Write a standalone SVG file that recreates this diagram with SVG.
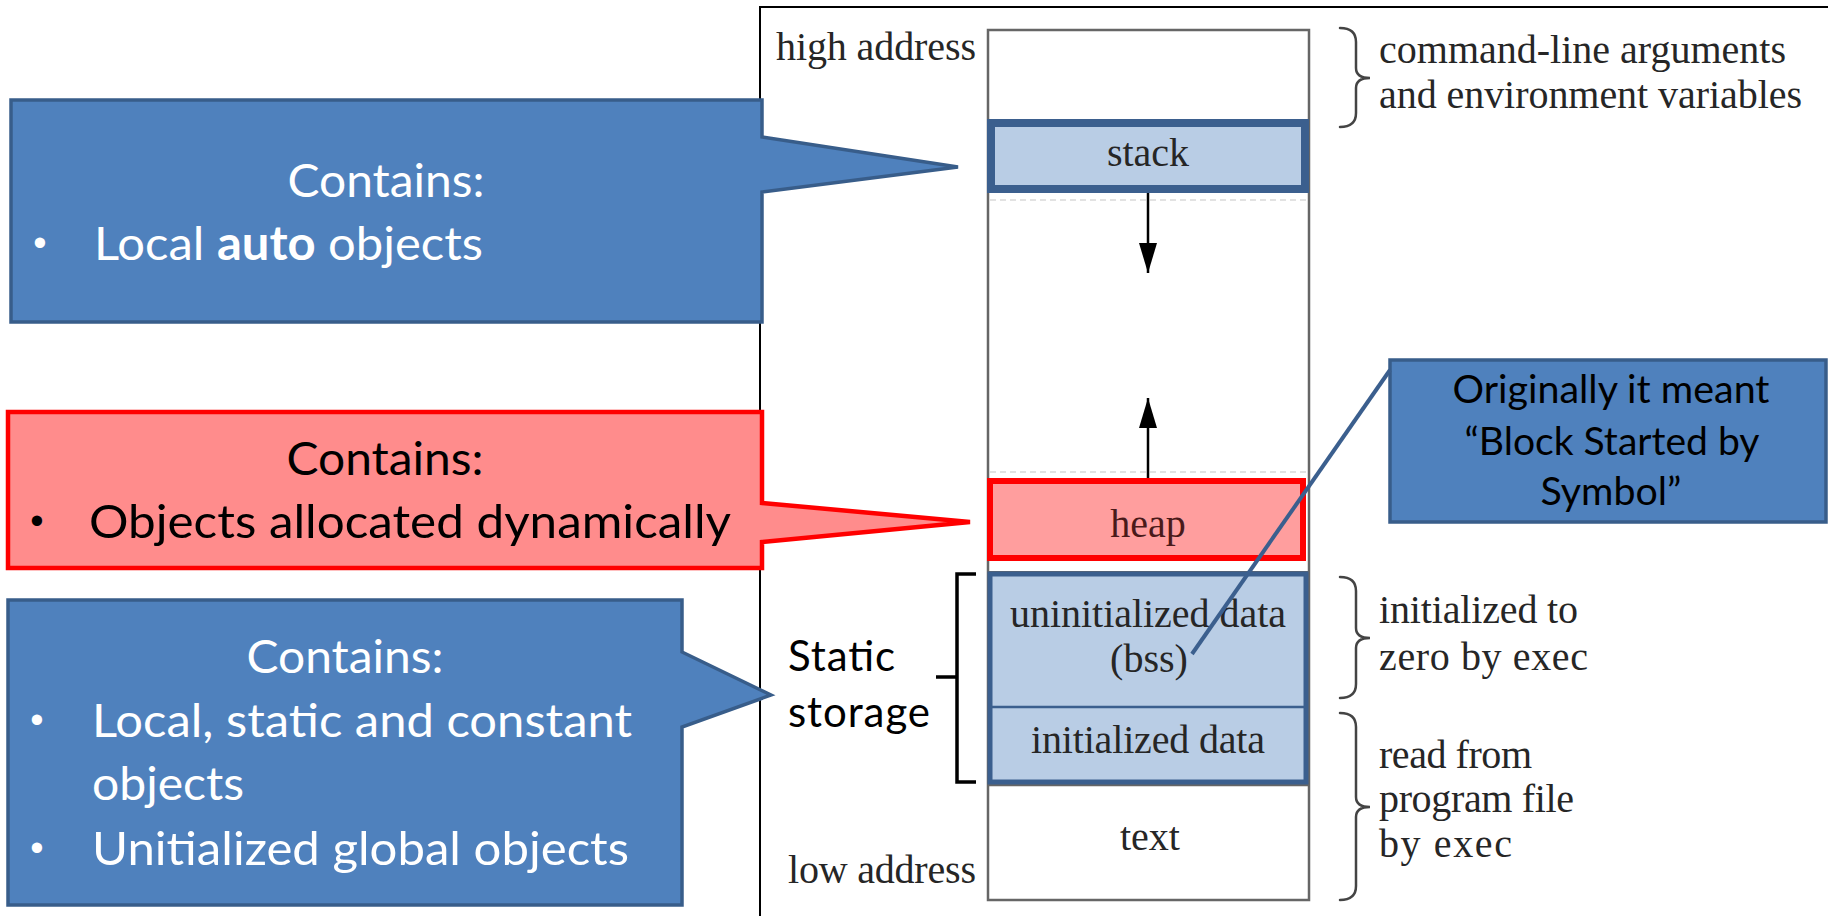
<svg xmlns="http://www.w3.org/2000/svg" width="1828" height="916" viewBox="0 0 1828 916">
<defs>
<style>
.serif{font-family:"Liberation Serif","Times New Roman",serif;font-size:40px;fill:#262626}
.sans{font-family:Lato,"Open Sans","Liberation Sans",sans-serif;font-size:47px}
.bul{font-family:"Liberation Sans",sans-serif;font-size:38px;text-anchor:middle}
.white{fill:#ffffff}
.black{fill:#000000}
.mid{text-anchor:middle}
.blueCall{fill:#4f81bd;stroke:#385d8a;stroke-width:3.5;stroke-linejoin:miter}
.redCall{fill:#ff8c8c;stroke:#ff0000;stroke-width:4.5;stroke-linejoin:miter}
.seg{fill:#b9cde5;stroke:#3b5f8e}
.brace{fill:none;stroke:#444;stroke-width:2.5;stroke-linecap:round}
</style>
<marker id="ah" viewBox="0 0 30 18" refX="30" refY="9" markerWidth="30" markerHeight="18" markerUnits="userSpaceOnUse" orient="auto">
<path d="M0,0 L30,9 L0,18 Z" fill="#000"/>
</marker>
</defs>
<rect width="1828" height="916" fill="#ffffff"/>

<g id="frame">
<path d="M760,916 V7 H1828" fill="none" stroke="#000" stroke-width="2"/>
</g>

<g id="memory-column">
<rect x="988" y="30" width="321" height="870" fill="#fff" stroke="#666" stroke-width="2.5"/>
<line x1="990" y1="200" x2="1307" y2="200" stroke="#e2e2e2" stroke-width="2" stroke-dasharray="6 4"/>
<line x1="990" y1="472" x2="1307" y2="472" stroke="#e2e2e2" stroke-width="2" stroke-dasharray="6 4"/>
<line x1="988" y1="572" x2="1309" y2="572" stroke="#666" stroke-width="2"/>
<line x1="988" y1="785" x2="1309" y2="785" stroke="#666" stroke-width="2.5"/>
<text class="serif" x="776" y="60" textLength="200">high address</text>
<text class="serif" x="788" y="883" textLength="188">low address</text>
</g>

<g id="stack">
<rect class="seg" x="991" y="123" width="314" height="66" stroke-width="8"/>
<text class="serif mid" x="1148" y="166">stack</text>
</g>

<g id="heap">
<rect x="990" y="481" width="313" height="77" fill="#ff9e9e" stroke="#ff0000" stroke-width="6"/>
<text class="serif mid" x="1148" y="537" style="fill:#4a1a1a">heap</text>
</g>

<g id="bss">
<rect class="seg" x="990" y="574" width="316" height="208" stroke-width="5"/>
<line x1="990" y1="707" x2="1306" y2="707" stroke="#3b5f8e" stroke-width="2.5"/>
<text class="serif mid" x="1148" y="627" textLength="276">uninitialized data</text>
<text class="serif mid" x="1149" y="672">(bss)</text>
</g>

<g id="initialized-data">
<text class="serif mid" x="1148" y="753" textLength="234">initialized data</text>
</g>

<g id="text-segment">
<text class="serif mid" x="1150" y="850">text</text>
</g>

<g id="braces">
<path class="brace" d="M1340,28 Q1356,28 1356,42 V68 Q1356,78 1370,78 Q1356,78 1356,88 V113 Q1356,127 1340,127"/>
<path class="brace" d="M1340,577 Q1356,577 1356,591 V628 Q1356,638 1370,638 Q1356,638 1356,648 V684 Q1356,698 1340,698"/>
<path class="brace" d="M1340,713 Q1356,713 1356,727 V797 Q1356,807 1370,807 Q1356,807 1356,817 V886 Q1356,900 1340,900"/>
<text class="serif" x="1379" y="63" textLength="407">command-line arguments</text>
<text class="serif" x="1379" y="108" textLength="423">and environment variables</text>
<text class="serif" x="1379" y="623" textLength="199">initialized to</text>
<text class="serif" x="1379" y="670" textLength="209">zero by exec</text>
<text class="serif" x="1379" y="768" textLength="153">read from</text>
<text class="serif" x="1379" y="812" textLength="195">program file</text>
<text class="serif" x="1379" y="857" textLength="133">by exec</text>
</g>

<g id="static-storage">
<path d="M976,574 H957 V782 H976 M936,677 H957" fill="none" stroke="#000" stroke-width="3.5"/>
<text class="sans black" x="788" y="671" style="font-size:42px" textLength="107">Static</text>
<text class="sans black" x="788" y="727" style="font-size:42px" textLength="142">storage</text>
</g>

<g id="callout-auto">
<path class="blueCall" d="M11,100 H762 V137 L958,167 L762,192 V322 H11 Z"/>
<text class="sans white mid" x="386" y="197" textLength="197" lengthAdjust="spacingAndGlyphs">Contains:</text>
<text class="bul white" x="40" y="256">•</text>
<text class="sans white" x="94" y="260" textLength="389" lengthAdjust="spacingAndGlyphs">Local <tspan font-weight="bold">auto</tspan> objects</text>
</g>

<g id="callout-heap">
<path class="redCall" d="M8,412 H762 V503 L970,522 L762,542 V568 H8 Z"/>
<text class="sans black mid" x="385" y="475" textLength="197" lengthAdjust="spacingAndGlyphs">Contains:</text>
<text class="bul black" x="37" y="534">•</text>
<text class="sans black" x="89" y="538" textLength="642" lengthAdjust="spacingAndGlyphs">Objects allocated dynamically</text>
</g>

<g id="callout-static">
<path class="blueCall" d="M8,600 H682 V652 L771,695 L682,727 V905 H8 Z"/>
<text class="sans white mid" x="345" y="673" textLength="197" lengthAdjust="spacingAndGlyphs">Contains:</text>
<text class="bul white" x="37" y="733">•</text>
<text class="sans white" x="92" y="737" textLength="540" lengthAdjust="spacingAndGlyphs">Local, static and constant</text>
<text class="sans white" x="92" y="800" textLength="152" lengthAdjust="spacingAndGlyphs">objects</text>
<text class="bul white" x="37" y="861">•</text>
<text class="sans white" x="92" y="865" textLength="537" lengthAdjust="spacingAndGlyphs">Unitialized global objects</text>
</g>

<g id="callout-bss">
<rect class="blueCall" x="1390" y="360" width="436" height="162"/>
<text class="sans black mid" x="1611" y="403" style="font-size:38px" textLength="317" lengthAdjust="spacingAndGlyphs">Originally it meant</text>
<text class="sans black mid" x="1612" y="455" style="font-size:38px" textLength="295" lengthAdjust="spacingAndGlyphs">“Block Started by</text>
<text class="sans black mid" x="1611" y="505" style="font-size:38px" textLength="141" lengthAdjust="spacingAndGlyphs">Symbol”</text>
</g>

<g id="connectors">
<line x1="1148" y1="193" x2="1148" y2="273" stroke="#000" stroke-width="2.5" marker-end="url(#ah)"/>
<line x1="1148" y1="478" x2="1148" y2="398" stroke="#000" stroke-width="2.5" marker-end="url(#ah)"/>
<line x1="1390" y1="370" x2="1192" y2="654" stroke="#3b5f8e" stroke-width="4"/>
</g>
</svg>
